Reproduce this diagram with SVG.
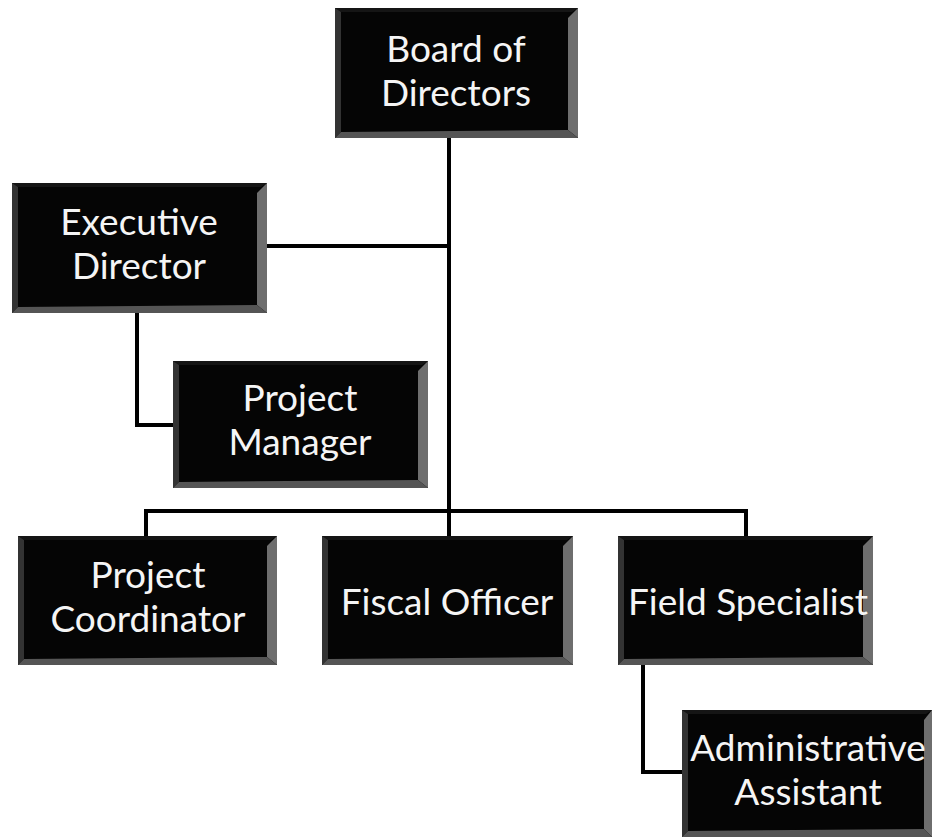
<svg xmlns="http://www.w3.org/2000/svg" width="932" height="839" viewBox="0 0 932 839">
<style>
.box{fill:#050505;}
.bl{fill:#333;}
.br{fill:#6e6e6e;}
.bb{fill:#555;}
.bt{fill:#151515;}
.lbl{font-family:Lato,"Open Sans","Liberation Sans",sans-serif;font-size:37px;fill:#f5f5f5;text-anchor:middle;}
.conn{stroke:#000;stroke-width:4;fill:none;stroke-linejoin:miter;}
</style>
<rect x="0" y="0" width="932" height="839" fill="#fff"/>
<g id="connectors">
<path class="conn" d="M449 138 V536"/>
<path class="conn" d="M267 246 H449"/>
<path class="conn" d="M137 313 V425 H173"/>
<path class="conn" d="M146 536 V511 H746 V536"/>
<path class="conn" d="M643 665 V772 H682"/>
</g>
<g id="board">
<rect class="box" x="335" y="8" width="243" height="130"/>
<polygon class="bt" points="335,8 578,8 572,12 341,12"/>
<polygon class="bl" points="335,8 341,12 341,132 335,138"/>
<polygon class="br" points="578,8 578,138 568,130 568,18"/>
<polygon class="bb" points="335,138 578,138 568,130 341,132"/>
<text class="lbl" x="456" y="62">Board of</text>
<text class="lbl" x="456" y="106">Directors</text>
</g>
<g id="executive">
<rect class="box" x="12" y="183" width="255" height="130"/>
<polygon class="bt" points="12,183 267,183 261,187 18,187"/>
<polygon class="bl" points="12,183 18,187 18,307 12,313"/>
<polygon class="br" points="267,183 267,313 257,305 257,193"/>
<polygon class="bb" points="12,313 267,313 257,305 18,307"/>
<text class="lbl" x="139" y="235">Executive</text>
<text class="lbl" x="139" y="279">Director</text>
</g>
<g id="manager">
<rect class="box" x="173" y="361" width="255" height="127"/>
<polygon class="bt" points="173,361 428,361 422,365 179,365"/>
<polygon class="bl" points="173,361 179,365 179,482 173,488"/>
<polygon class="br" points="428,361 428,488 418,480 418,371"/>
<polygon class="bb" points="173,488 428,488 418,480 179,482"/>
<text class="lbl" x="300" y="411">Project</text>
<text class="lbl" x="300" y="455">Manager</text>
</g>
<g id="coordinator">
<rect class="box" x="18" y="536" width="259" height="129"/>
<polygon class="bt" points="18,536 277,536 271,540 24,540"/>
<polygon class="bl" points="18,536 24,540 24,659 18,665"/>
<polygon class="br" points="277,536 277,665 267,657 267,546"/>
<polygon class="bb" points="18,665 277,665 267,657 24,659"/>
<text class="lbl" x="148" y="588">Project</text>
<text class="lbl" x="148" y="632">Coordinator</text>
</g>
<g id="fiscal">
<rect class="box" x="322" y="536" width="251" height="129"/>
<polygon class="bt" points="322,536 573,536 567,540 328,540"/>
<polygon class="bl" points="322,536 328,540 328,659 322,665"/>
<polygon class="br" points="573,536 573,665 563,657 563,546"/>
<polygon class="bb" points="322,665 573,665 563,657 328,659"/>
<text class="lbl" x="447" y="615">Fiscal Officer</text>
</g>
<g id="field">
<rect class="box" x="618" y="536" width="255" height="129"/>
<polygon class="bt" points="618,536 873,536 867,540 624,540"/>
<polygon class="bl" points="618,536 624,540 624,659 618,665"/>
<polygon class="br" points="873,536 873,665 863,657 863,546"/>
<polygon class="bb" points="618,665 873,665 863,657 624,659"/>
<text class="lbl" x="748" y="615">Field Specialist</text>
</g>
<g id="admin">
<rect class="box" x="682" y="710" width="250" height="127"/>
<polygon class="bt" points="682,710 932,710 926,714 688,714"/>
<polygon class="bl" points="682,710 688,714 688,831 682,837"/>
<polygon class="br" points="932,710 932,837 924,829 924,720"/>
<polygon class="bb" points="682,837 932,837 924,829 688,831"/>
<text class="lbl" x="808" y="761">Administrative</text>
<text class="lbl" x="808" y="805">Assistant</text>
</g>
</svg>
